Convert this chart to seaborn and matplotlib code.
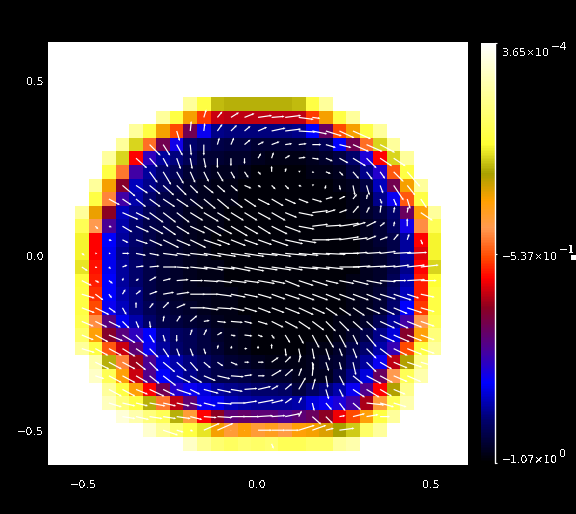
import numpy as np
import pandas as pd
import matplotlib
matplotlib.use("Agg")
import matplotlib.pyplot as plt
from matplotlib.colors import LinearSegmentedColormap
import seaborn as sns

# --- cell values: fraction of the colour range, one row of the grid at a time (start column, values)
CELL_ROWS = [
 (8,[.88,.78,.71,.70,.70,.70,.70,.70,.71,.78,.88]),
 (6,[.88,.78,.63,.48,.41,.40,.40,.40,.40,.40,.40,.48,.63,.78,.88]),
 (4,[.88,.78,.63,.49,.33,.20,.12,.11,.11,.11,.11,.11,.12,.19,.32,.49,.63,.78,.88]),
 (3,[.88,.73,.52,.33,.21,.10,.08,.07,.06,.06,.05,.05,.05,.05,.06,.08,.19,.33,.52,.73,.88]),
 (2,[.88,.73,.44,.24,.13,.11,.08,.05,.05,.04,.04,.03,.02,.02,.02,.03,.04,.06,.10,.22,.44,.73,.88]),
 (2,[.78,.53,.26,.13,.10,.08,.05,.04,.03,.03,.02,.01,.01,.01,.01,.02,.02,.03,.06,.12,.23,.50,.78]),
 (1,[.88,.63,.36,.15,.12,.09,.06,.04,.03,.02,.02,.01,.01,.01,.01,.01,.01,.01,.02,.03,.06,.15,.33,.63,.88]),
 (1,[.78,.54,.26,.14,.10,.07,.05,.04,.03,.02,.02,.01,.01,.01,.01,.01,.01,.01,.01,.02,.04,.12,.20,.50,.78]),
 (0,[.88,.64,.37,.15,.12,.08,.06,.05,.03,.02,.02,.01,.01,.01,.01,.01,.01,.01,.01,.01,.02,.04,.06,.10,.32,.62,.88]),
 (0,[.80,.56,.27,.14,.10,.07,.06,.04,.03,.02,.02,.01,.01,.01,.01,.01,.01,.01,.01,.01,.01,.03,.05,.09,.21,.55,.80]),
 (0,[.75,.44,.19,.13,.10,.07,.05,.04,.03,.02,.01,.01,.01,.01,.01,.01,.01,.01,.01,.01,.01,.03,.05,.07,.13,.44,.75]),
 (0,[.75,.44,.18,.12,.09,.06,.05,.04,.03,.02,.01,.01,.01,.01,.01,.01,.01,.01,.01,.01,.01,.03,.04,.07,.13,.42,.75]),
 (0,[.74,.45,.18,.13,.10,.07,.05,.04,.03,.02,.02,.01,.01,.01,.01,.01,.01,.01,.01,.01,.01,.03,.04,.07,.12,.44,.73]),
 (0,[.77,.46,.19,.13,.10,.07,.05,.04,.03,.02,.02,.01,.01,.01,.01,.01,.01,.01,.01,.01,.02,.03,.04,.08,.14,.46,.76]),
 (0,[.78,.47,.19,.14,.11,.07,.05,.04,.03,.03,.02,.02,.01,.01,.01,.01,.01,.01,.01,.01,.02,.03,.05,.09,.15,.46,.78]),
 (0,[.78,.49,.20,.15,.11,.08,.06,.05,.04,.03,.02,.02,.01,.01,.01,.01,.01,.01,.01,.01,.02,.03,.05,.10,.19,.48,.78]),
 (0,[.79,.55,.29,.18,.14,.10,.07,.06,.05,.04,.03,.02,.02,.01,.01,.01,.01,.01,.01,.02,.02,.04,.08,.13,.26,.56,.80]),
 (0,[.82,.62,.36,.29,.24,.19,.12,.09,.08,.06,.04,.03,.02,.01,.01,.01,.01,.01,.01,.02,.04,.07,.12,.17,.36,.62,.84]),
 (0,[.88,.78,.50,.41,.30,.20,.13,.10,.08,.06,.05,.03,.02,.01,.01,.01,.01,.02,.02,.04,.07,.10,.14,.25,.49,.78,.88]),
 (1,[.90,.70,.54,.38,.27,.17,.14,.11,.09,.07,.05,.04,.03,.02,.02,.02,.03,.04,.05,.09,.13,.20,.40,.68,.86]),
 (1,[.93,.80,.62,.41,.28,.19,.15,.12,.09,.07,.07,.06,.05,.04,.04,.03,.03,.03,.07,.12,.17,.32,.56,.80,.90]),
 (2,[.88,.78,.62,.44,.33,.23,.20,.17,.13,.12,.11,.10,.10,.09,.06,.09,.11,.14,.20,.28,.44,.68,.86]),
 (2,[.92,.84,.78,.70,.53,.40,.30,.20,.18,.15,.14,.13,.13,.13,.14,.17,.20,.22,.26,.39,.58,.80,.90]),
 (3,[.95,.90,.84,.80,.70,.58,.44,.37,.30,.31,.30,.30,.28,.30,.32,.37,.43,.49,.62,.78,.88]),
 (5,[.94,.88,.83,.78,.74,.63,.58,.62,.58,.60,.57,.62,.63,.65,.69,.72,.82,.88]),
 (8,[.93,.87,.83,.81,.83,.82,.83,.80,.80,.82,.82,.88,.90]),
]

# --- vector field, read per grid row: (row, start column, U, V), image pixels, V positive downward
ARROW_ROWS = [
 (1,9,[2.5,5,8,10,14,13,16,15,8],[-8,-6,-5,-4,-2,-1,-2,2,1]),
 (2,7,[3,1,1,5,6,6,9,14,16,17,15,16,15,18],[10,-10,-8,-7,-6,-5,-4,-3,-2,1,3,5,7,8]),
 (3,5,[11,7,6,1,0,2,3,6,6,8,7,8,9,10,12,16,16,15],[11,11,11,11,11,-7,-7,-5,-3,-3,-1,-1,0,3,3,7,7,8]),
 (4,4,[11,8,5,4,2,2,0,0,0,3,2,5,7,7,7,9,13,10,12,12],[10,9,9,11,11,10,10,8,6,-5,-6,-3,-1,1,3,5,8,10,8,8]),
 (5,5,[8,8,7,5,5,6,4,4,3,0,1,2,2,5,4,6,6,5,10,13],[11,13,12,11,10,10,7,6,3,-6,-4,-1,1,2,4,7,8,7,10,15]),
 (6,3,[13,12,11,11,10,8,10,8,7,7,3,4,4,3,2,-1,1,2,3,3,10,8],[11,8,9,10,10,8,8,7,6,3,2,4,4,1,-1,4,5,10,10,8,15,10]),
 (7,2,[11,9,10,11,12,12,13,12,12,12,12,12,12,11,10,10,7,6,4,1,2,3,3,6],[6,6,8,8,8,8,10,10,10,9,8,6,7,5,4,3,-2,-3,-5,-5,5,7,10,9]),
 (8,3,[16,14,14,13,13,13,15,13,13,13,13,14,12,15,16,10,8,6,3,1,1,1,12],[7,7,10,10,10,8,9,8,8,8,7,8,5,3,-2,-3,-3,-7,-6,-8,-6,-6,8]),
 (9,1,[3,3,10,13,14,13,13,15,18,15,17,14,13,16,16,16,16,16,20,13,10,5,1,0],[3,1,6,6,8,9,8,7,10,8,10,8,8,8,6,3,-2,-1,-3,-4,-5,-4,-5,-8]),
 (10,2,[3,6,12,13,16,14,16,18,13,15,14,14,17,18,18,18,16,20,15,10,8,5,2,2],[1,3,4,6,8,6,8,6,5,6,5,5,6,4,3,0,-1,-3,-2,-4,-3,-6,-6,5]),
 (11,0,[3,2,2,7,10,10,15,14,18,18,19,20,20,20,20,22,20,18,20,20,15,15,16,18,20],[2,0,0,0,2,2,2,2,2,3,3,3,3,2,3,2,2,1,1,0,-1,-1,-2,-1,-1]),
 (12,0,[6,2,2,5,8,10,14,13,18,20,18,20,20,20,20,18,20,18,18,21,18,20,16,16,18,18],[4,1,2,-2,-1,-1,0,1,2,3,2,4,4,3,3,3,2,2,2,0,-1,-1,-1,-2,-2,-2]),
 (13,0,[10,4,4,1,3,7,8,12,13,15,15,16,15,17,14,15,15,16,13,15,16,16,16,13,18,16],[5,2,3,-3,-2,-4,-2,-1,0,1,2,2,2,3,3,6,5,5,3,3,4,3,1,0,-1,0]),
 (14,0,[13,8,3,3,5,8,11,13,15,15,15,15,14,14,14,15,16,16,15,16,16,15,16,18,12,14],[4,6,4,-5,-4,-3,-2,-2,0,0,2,3,3,4,5,5,6,6,6,6,6,6,5,6,4,3]),
 (15,0,[13,14,7,4,0,4,6,9,15,15,15,14,13,13,13,15,15,13,12,12,12,14,15,14,15,14],[5,7,5,7,-6,-5,-6,-4,0,2,1,3,4,5,5,6,7,6,8,8,8,6,7,6,5,4]),
 (16,0,[12,12,12,7,3,1,1,4,7,6,9,12,8,10,12,13,12,12,10,10,10,10,15,15,15,14],[5,6,6,7,7,7,-6,-6,-6,-1,1,1,2,3,6,7,8,9,10,10,9,9,7,7,6,5]),
 (17,0,[12,13,14,13,8,5,2,0,2,3,5,5,8,5,3,5,5,7,8,7,5,10,15,16,15,14],[5,7,6,8,8,8,7,7,-6,-6,-3,1,1,2,4,8,9,13,13,13,10,12,7,7,6,5]),
 (18,0,[13,13,13,13,12,9,6,3,3,2,1,1,3,0,0,1,2,2,4,3,4,10,12,14,15,14],[4,7,7,8,8,9,9,8,8,6,-4,-3,0,-3,-5,8,10,11,12,8,10,10,9,7,6,5]),
 (19,1,[14,13,13,10,9,12,10,8,7,6,7,5,6,7,6,2,1,3,2,3,10,12,14,15,14],[7,7,7,8,9,10,9,9,6,4,3,0,0,-5,-6,-8,8,9,8,13,10,7,6,5,4]),
 (20,1,[9,13,13,12,10,13,14,12,12,13,13,8,7,10,8,3,1,2,5,10,15,13,14,14],[3,7,7,7,8,10,7,7,5,3,1,-1,0,-6,-7,-8,-13,12,10,8,8,7,6,6]),
 (21,2,[13,13,12,15,12,15,10,15,14,12,13,13,7,7,7,3,3,4,12,13,12,12],[7,7,5,7,6,5,5,4,3,2,-1,-3,-4,-6,-12,-11,10,8,8,8,7,5]),
 (22,2,[13,13,12,16,13,13,12,12,15,15,13,16,12,7,3,2,6,6,8,18,14,13],[4,3,3,3,3,3,3,3,1,0,-2,-3,-3,-5,-6,8,7,8,7,2,4,4]),
 (23,3,[13,13,13,13,14,12,13,15,15,15,15,14,15,3,9,7,6,12,12,10],[2,3,2,2,2,3,1,1,0,0,-1,-1,-3,-6,8,7,-1,-3,-2,0]),
 (24,6,[15,7,3,16,16,0,0,14,14,14,16,14,8,15],[5,2,1,-7,-7,0,0,0,0,0,-5,-5,-2,-2]),
 (25,14,[2],[5]),
]

TICK_VALUES = [-0.5, 0.0, 0.5]
TICK_LABELS = ["\u22120.5", "0.0", "0.5"]
VMIN, VMID, VMAX = -1.07, -5.37e-1, 3.65e-4
CBAR_LABELS = [("3.65\u00d710", "\u22124"), ("\u22125.37\u00d710", "\u22121"), ("\u22121.07\u00d710", "0")]

STOPS = [(0.00,"#000000"),(0.10,"#00006c"),(0.19,"#0000ff"),(0.27,"#4b0096"),(0.37,"#8c0020"),(0.44,"#ff0000"),
         (0.49,"#ff4a00"),(0.56,"#ff9a50"),(0.625,"#ffa000"),(0.69,"#a8a000"),(0.76,"#ffff33"),(1.00,"#ffffff")]
cmap = LinearSegmentedColormap.from_list("idl", STOPS, N=256)

W, H = 576, 514
CW, CH = 13.56, 13.6          # one grid cell in pixels
GX, GY = 75.0, 97.0           # top left corner of the grid in pixels
AX_L, AX_R, AX_T, AX_B = 48, 468, 42, 465

sns.set_theme(style="white")
plt.rcParams["font.family"] = ["DejaVu Sans"]
plt.rcParams["text.antialiased"] = False

fig = plt.figure(figsize=(W/100, H/100), dpi=100, facecolor="black")
ax = fig.add_axes([AX_L/W, 1-AX_B/H, (AX_R-AX_L)/W, (AX_B-AX_T)/H], facecolor="white")
cax = fig.add_axes([481/W, 1-463/H, 14/W, 420/H], facecolor="black")

grid = np.full((len(CELL_ROWS), 27), np.nan)
for r, (start, vals) in enumerate(CELL_ROWS):
    grid[r, start:start+len(vals)] = vals
frame = pd.DataFrame(VMIN + grid*(VMAX-VMIN))

sns.heatmap(frame, ax=ax, cbar_ax=cax, cmap=cmap, vmin=VMIN, vmax=VMAX,
            xticklabels=False, yticklabels=False, linewidths=0)
ax.collections[0].set_antialiased(False)
ax.set_xlim((AX_L-GX)/CW, (AX_R-GX)/CW)
ax.set_ylim((AX_B-GY)/CH, (AX_T-GY)/CH)
ax.set_xlabel(""); ax.set_ylabel("")

ax.set_xticks([(257+348*v-GX)/CW for v in TICK_VALUES])
ax.set_xticklabels(TICK_LABELS)
ax.set_yticks([(256-350*v-GY)/CH for v in TICK_VALUES])
ax.set_yticklabels(TICK_LABELS)
ax.tick_params(axis="x", length=0, pad=11, colors="white", labelsize=8)
ax.tick_params(axis="y", length=0, pad=3, colors="white", labelsize=8)
for s in ax.spines.values():
    s.set_visible(False)

xs, ys, us, vs = [], [], [], []
for row, start, U, V in ARROW_ROWS:
    for i, (u, v) in enumerate(zip(U, V)):
        xs.append(start+i+0.5); ys.append(row+0.5)
        us.append(u/CW); vs.append(v/CH)
ax.quiver(xs, ys, us, vs, angles="xy", scale_units="xy", scale=1, pivot="tail", color="white",
          units="dots", width=1.2, headwidth=2.0, headlength=2.0, headaxislength=2.0, minlength=0.5,
          antialiased=True, linewidth=0, zorder=3)

# colour bar furniture
cb = ax.collections[0].colorbar
cb.outline.set_visible(False)
cb.set_ticks([])
cax.axvline(1.0, color="white", lw=1.0, clip_on=False)
for value in (VMAX, VMID, VMIN):
    cax.plot([1.0, 1.14], [value, value], color="white", lw=0.8, clip_on=False,
             transform=cax.get_yaxis_transform(), solid_capstyle="butt")

POS = [(502, 53, 551, 47), (502, 257, 559, 250), (502, 460, 559, 454)]
for (main, sup), (x, y, sx, sy) in zip(CBAR_LABELS, POS):
    fig.text(x/W, 1-y/H, main, color="white", fontsize=7.8, ha="left", va="center")
    fig.text(sx/W, 1-sy/H, sup, color="white", fontsize=8.0, ha="left", va="center")
fig.patches.append(plt.Rectangle((571/W, 1-260/H), 5/W, 5/H, transform=fig.transFigure,
                                 facecolor="white", edgecolor="none", figure=fig))

fig.savefig("out.png", dpi=100, facecolor="black")
